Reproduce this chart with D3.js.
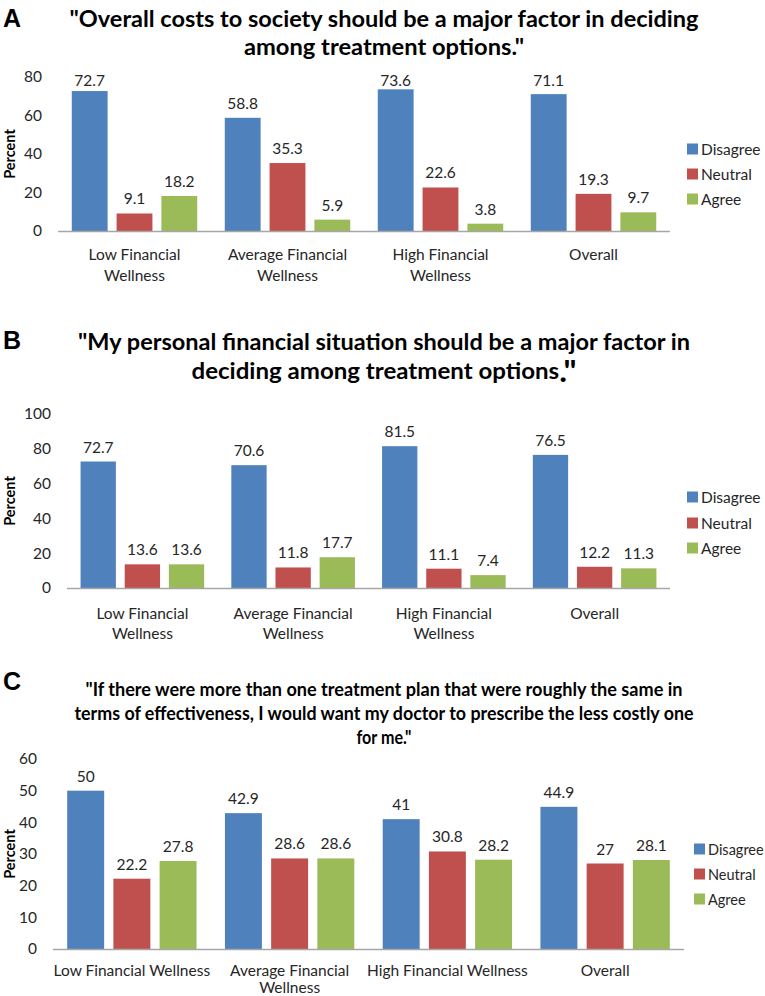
<!DOCTYPE html>
<html>
<head>
<meta charset="utf-8">
<script src="https://cdn.jsdelivr.net/npm/d3@7"></script>
<style>
  html, body { margin: 0; padding: 0; background: #ffffff; }
  svg { display: block; }
  text { font-family: Lato, "Open Sans", sans-serif; fill: #1a1a1a; }
</style>
</head>
<body>
<svg id="chart" width="765" height="996"></svg>
<script>
// ---------- DATA ----------
const categories = ["Low Financial Wellness", "Average Financial Wellness", "High Financial Wellness", "Overall"];
const seriesNames = ["Disagree", "Neutral", "Agree"];
const seriesColors = ["#4f81bd", "#c0504d", "#9bbb59"];

const disagreeA = [72.7, 58.8, 73.6, 71.1];
const neutralA  = [9.1, 35.3, 22.6, 19.3];
const agreeA    = [18.2, 5.9, 3.8, 9.7];

const disagreeB = [72.7, 70.6, 81.5, 76.5];
const neutralB  = [13.6, 11.8, 11.1, 12.2];
const agreeB    = [13.6, 17.7, 7.4, 11.3];

const disagreeC = [50, 42.9, 41, 44.9];
const neutralC  = [22.2, 28.6, 30.8, 27];
const agreeC    = [27.8, 28.6, 28.2, 28.1];

const ticksA = [0, 20, 40, 60, 80];
const ticksB = [0, 20, 40, 60, 80, 100];
const ticksC = [0, 10, 20, 30, 40, 50, 60];

const catLinesAB = [["Low Financial", "Wellness"], ["Average Financial", "Wellness"], ["High Financial", "Wellness"], ["Overall"]];
const catLinesC  = [["Low Financial Wellness"], ["Average Financial", "Wellness"], ["High Financial Wellness"], ["Overall"]];

const titleA = ["\"Overall costs to society should be a major factor in deciding", "among treatment options.\""];
const titleB = ["\"My personal financial situation should be a major factor in", "deciding among treatment options"];
const titleBEnd = ".\"";
const titleC = ["\"If there were more than one treatment plan that were roughly the same in",
                "terms of effectiveness, I would want my doctor to prescribe the less costly one",
                "for me.\""];
const yLabel = "Percent";

// ---------- LAYOUT ----------
const svg = d3.select("#chart");

const panels = [
  { letter: "A", letterY: 27, values: [disagreeA, neutralA, agreeA], ticks: ticksA, yMax: 80,
    x0: 58, x1: 670, yBase: 231, yTop: 77, labelCap: 80, catLines: catLinesAB, catDy: [23, 44],
    legendX: 687, legendY: [149, 174, 199], legendSize: 15.5,
    title: titleA, titleY: [18, 46], titleW: [629, 280], titleSize: 22, titleEnd: null },
  { letter: "B", letterY: 349, values: [disagreeB, neutralB, agreeB], ticks: ticksB, yMax: 100,
    x0: 67, x1: 670, yBase: 588, yTop: 414, labelCap: null, catLines: catLinesAB, catDy: [25, 45],
    legendX: 687, legendY: [497, 523, 548], legendSize: 15.5,
    title: titleB, titleY: [341, 370], titleW: [612, 385], titleSize: 22, titleEnd: titleBEnd },
  { letter: "C", letterY: 690, values: [disagreeC, neutralC, agreeC], ticks: ticksC, yMax: 60,
    x0: 53, x1: 684, yBase: 949, yTop: 759, labelCap: null, catLines: catLinesC, catDy: [21, 38],
    legendX: 694, legendY: [849, 874, 899], legendSize: 14.5,
    title: titleC, titleY: [689, 713, 737], titleW: [597, 619, 55], titleSize: 18, titleEnd: null }
];

panels.forEach(p => {
  const g = svg.append("g");

  // panel letter
  g.append("text")
    .attr("x", 3).attr("y", p.letterY)
    .style("font-family", "'Liberation Sans', Arial, sans-serif")
    .style("font-weight", "bold").style("font-size", "25px")
    .style("fill", "#000")
    .text(p.letter);

  // title lines
  p.title.forEach((line, i) => {
    const t = g.append("text")
      .attr("x", 384).attr("y", p.titleY[i])
      .attr("text-anchor", "middle")
      .attr("dominant-baseline", "central")
      .style("font-weight", "bold")
      .style("font-size", p.titleSize + "px")
      .style("fill", "#000")
      .attr("textLength", p.titleW[i])
      .attr("lengthAdjust", "spacingAndGlyphs");
    t.append("tspan").text(line);
    if (p.titleEnd && i === p.title.length - 1) {
      t.append("tspan").style("font-size", (p.titleSize + 8) + "px").text(p.titleEnd);
    }
  });

  // scales
  const x = d3.scaleBand().domain(categories).range([p.x0, p.x1])
    .paddingInner(0.18).paddingOuter(0.09);
  const xs = d3.scaleBand().domain(seriesNames).range([0, x.bandwidth()]).paddingInner(0.2).paddingOuter(0);
  const y = d3.scaleLinear().domain([0, p.yMax]).range([p.yBase, p.yTop]);

  // y axis (labels only)
  const yAxis = d3.axisLeft(y).tickValues(p.ticks).tickSize(0).tickPadding(16).tickFormat(d3.format("d"));
  const ya = g.append("g").attr("transform", `translate(${p.x0},0)`).call(yAxis);
  ya.select(".domain").remove();
  ya.selectAll("text")
    .style("font-family", "Lato, 'Open Sans', sans-serif")
    .style("font-size", "15.5px").style("fill", "#262626");

  // y label
  g.append("text")
    .attr("transform", `translate(9,${(p.yBase + p.yTop) / 2}) rotate(-90)`)
    .attr("text-anchor", "middle").attr("dominant-baseline", "central")
    .style("font-weight", "bold").style("font-size", "14.5px").style("fill", "#000")
    .text(yLabel);

  // bars
  seriesNames.forEach((s, si) => {
    const vals = p.values[si];
    const sg = g.append("g");
    sg.selectAll("rect").data(vals).join("rect")
      .attr("x", (d, i) => x(categories[i]) + xs(s))
      .attr("y", d => y(d))
      .attr("width", xs.bandwidth())
      .attr("height", d => y(0) - y(d))
      .attr("fill", seriesColors[si]);
    sg.selectAll("text").data(vals).join("text")
      .attr("x", (d, i) => x(categories[i]) + xs(s) + xs.bandwidth() / 2)
      .attr("y", d => {
        let c = y(d) - 15;
        if (p.labelCap !== null) c = Math.max(c, p.labelCap);
        return c;
      })
      .attr("text-anchor", "middle").attr("dominant-baseline", "central")
      .style("font-size", "15.5px").style("fill", "#262626")
      .text(d => d);
  });

  // x baseline
  g.append("line")
    .attr("x1", p.x0).attr("x2", p.x1)
    .attr("y1", y(0) + 0.5).attr("y2", y(0) + 0.5)
    .attr("stroke", "#a6a6a6").attr("stroke-width", 1.3);

  // category labels
  categories.forEach((c, i) => {
    const cx = x(c) + x.bandwidth() / 2;
    p.catLines[i].forEach((ln, li) => {
      g.append("text")
        .attr("x", cx).attr("y", p.yBase + p.catDy[li])
        .attr("text-anchor", "middle").attr("dominant-baseline", "central")
        .style("font-size", "15.5px").style("fill", "#262626")
        .text(ln);
    });
  });

  // legend
  seriesNames.forEach((s, si) => {
    g.append("rect")
      .attr("x", p.legendX).attr("y", p.legendY[si] - 5.5)
      .attr("width", 11).attr("height", 11)
      .attr("fill", seriesColors[si]);
    g.append("text")
      .attr("x", p.legendX + 14).attr("y", p.legendY[si])
      .attr("dominant-baseline", "central")
      .style("font-size", p.legendSize + "px").style("fill", "#262626")
      .text(s);
  });
});
</script>
</body>
</html>
